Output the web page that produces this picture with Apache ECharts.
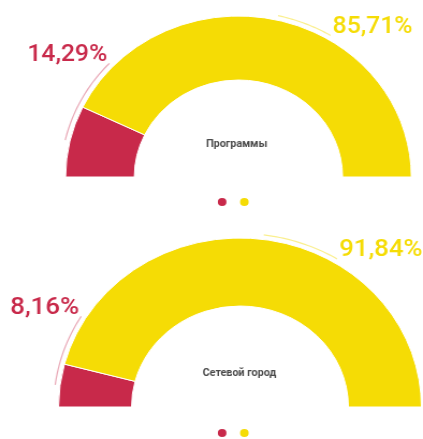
<!DOCTYPE html>
<html>
<head>
<meta charset="utf-8">
<script src="https://cdn.jsdelivr.net/npm/echarts@6/dist/echarts.min.js"></script>
<style>
  html, body { margin: 0; padding: 0; background: #fff; overflow: hidden; }
  /* the reference is stretched a little horizontally */
  #chart { width: 394px; height: 439px; transform: scaleX(1.0736); transform-origin: 0 0; }
</style>
</head>
<body>
<div id="chart"></div>
<script>
const sliceNames = ['Нет', 'Да'];
const programValues = [14.29, 85.71];
const cityValues = [8.16, 91.84];
const chartTitles = ['Программы', 'Сетевой город'];

const colors = ['#c8294a', '#f5dc05'];
const lineColors = ['rgba(200, 41, 74, 0.4)', 'rgba(245, 220, 5, 0.45)'];

/* geometry of the two half rings, in chart pixels before the stretch */
const rings = [
  { cx: 222.1, cy: 177, r0: 97, r: 161, font: 23, labelAngles: [136.6, 58.8], titleX: 220.5, titleY: 144.5, legendTop: 196 },
  { cx: 223.5, cy: 407, r0: 101, r: 169, font: 24, labelAngles: [148.5, 58.6], titleX: 223, titleY: 373, legendTop: 427 }
];

const chart = echarts.init(document.getElementById('chart'));

/* leader line runs along the outside of the ring, label sits at its end */
const placeLabel = (p) => {
  const ring = rings[p.seriesIndex];
  const start = p.labelLinePoints[0];
  const a0 = Math.atan2(ring.cy - start[1], start[0] - ring.cx);
  const a1 = ring.labelAngles[p.dataIndex] * Math.PI / 180;
  const R = ring.r + 4.5;
  const pts = [];
  for (let i = 0; i <= 24; i++) {
    const a = a0 + (a1 - a0) * i / 24;
    pts.push([ring.cx + R * Math.cos(a), ring.cy - R * Math.sin(a)])
  }
  const end = pts[pts.length - 1];
  const isLeft = p.dataIndex === 0;
  return {
    x: end[0] + (isLeft ? -2 : 2),
    y: end[1] - 8.5,
    align: isLeft ? 'right' : 'left',
    verticalAlign: 'middle',
    labelLinePoints: pts
  };
};

const ringSeries = (values, idx) => {
  const ring = rings[idx];
  return {
    type: 'pie',
    center: [ring.cx, ring.cy],
    radius: [ring.r0, ring.r],
    startAngle: 180,
    endAngle: 0,
    clockwise: true,
    avoidLabelOverlap: false,
    itemStyle: { borderColor: '#fff', borderWidth: 1 },
    label: {
      show: true,
      position: 'outside',
      fontSize: ring.font,
      fontWeight: 500,
      fontFamily: 'Roboto',
      formatter: (p) => p.value.toFixed(2).replace('.', ',') + '%'
    },
    labelLine: { show: true, lineStyle: { width: 1.2 } },
    labelLayout: placeLabel,
    emphasis: { scale: false },
    data: values.map((v, i) => ({
      name: sliceNames[i],
      value: v,
      itemStyle: { color: colors[i] },
      label: { color: colors[i] },
      labelLine: { lineStyle: { color: lineColors[i] } }
    }))
  };
};

const option = {
  animation: false,
  legend: rings.map((ring) => ({
    data: sliceNames,
    left: 200.9,
    top: ring.legendTop,
    padding: 0,
    icon: 'circle',
    itemWidth: 10,
    itemHeight: 10,
    itemGap: 8.7,
    selectedMode: false,
    formatter: () => ''
  })),
  graphic: rings.map((ring, i) => ({
    type: 'text',
    x: ring.titleX,
    y: ring.titleY,
    style: {
      text: chartTitles[i],
      align: 'center',
      verticalAlign: 'middle',
      fontSize: 10,
      fontWeight: 'bold',
      fontFamily: 'Roboto',
      fill: '#4a4a4a'
    }
  })),
  series: [
    ringSeries(programValues, 0),
    ringSeries(cityValues, 1)
  ]
};

chart.setOption(option);
</script>
</body>
</html>
